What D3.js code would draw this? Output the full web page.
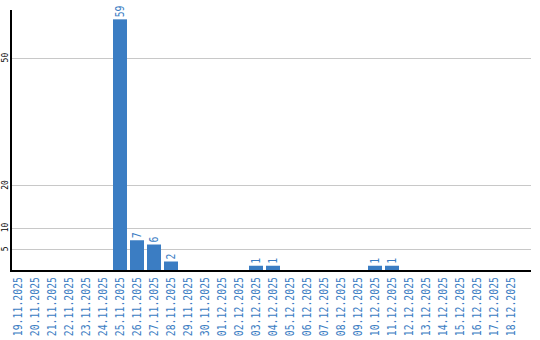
<!DOCTYPE html>
<html>
<head>
<meta charset="utf-8">
<script src="https://cdn.jsdelivr.net/npm/d3@7"></script>
<style>
body { margin: 0; background: #fff; }
svg { display: block; }
</style>
</head>
<body>
<div id="chart"></div>
<script>
// data
var dates = ["19.11.2025","20.11.2025","21.11.2025","22.11.2025","23.11.2025","24.11.2025",
  "25.11.2025","26.11.2025","27.11.2025","28.11.2025","29.11.2025","30.11.2025",
  "01.12.2025","02.12.2025","03.12.2025","04.12.2025","05.12.2025","06.12.2025",
  "07.12.2025","08.12.2025","09.12.2025","10.12.2025","11.12.2025","12.12.2025",
  "13.12.2025","14.12.2025","15.12.2025","16.12.2025","17.12.2025","18.12.2025"];
var counts = [0,0,0,0,0,0,59,7,6,2,0,0,0,0,1,1,0,0,0,0,0,1,1,0,0,0,0,0,0,0];
var yTicks = [5,10,20,50];

var chartW = 540, chartH = 340;
var plotLeft = 11, plotRight = 531, plotTop = 10, baseY = 270;
var barColor = "#3b7dc3";
// glyphs in the picture are tall but narrow, so squeeze along the text direction
var squeeze = 0.82;

var svg = d3.select("#chart").append("svg")
  .attr("width", chartW)
  .attr("height", chartH);

var x = d3.scaleBand()
  .domain(dates)
  .range([plotLeft, plotLeft + dates.length * 17 - 3])
  .paddingInner(3 / 17)
  .paddingOuter(0);

var y = d3.scaleLinear()
  .domain([0, 61.2])
  .range([baseY, plotTop]);

//gridlines
svg.selectAll("line.grid")
  .data(yTicks)
  .enter().append("line")
  .attr("class", "grid")
  .attr("x1", plotLeft)
  .attr("x2", plotRight)
  .attr("y1", function(d) { return Math.round(y(d)) + 0.5; })
  .attr("y2", function(d) { return Math.round(y(d)) + 0.5; })
  .style("stroke", "#c8c8c8")
  .style("stroke-width", 1);

//y tick labels, turned on their side
svg.selectAll("text.ylab")
  .data(yTicks)
  .enter().append("text")
  .attr("class", "ylab")
  .attr("transform", function(d) { return "translate(8," + y(d) + ") rotate(-90)"; })
  .attr("text-anchor", "middle")
  .style("font-family", "DejaVu Sans Mono")
  .style("font-size", "8px")
  .style("fill", "#000")
  .text(function(d) { return d; });

//bars
svg.selectAll("rect.bar")
  .data(counts)
  .enter().append("rect")
  .attr("class", "bar")
  .attr("x", function(d, i) { return x(dates[i]); })
  .attr("width", x.bandwidth())
  .attr("y", function(d) { return y(d); })
  .attr("height", function(d) { return baseY - y(d); })
  .style("fill", barColor);

//value labels above the bars (skip zeros)
svg.selectAll("text.val")
  .data(counts.map(function(d, i) { return {v: d, date: dates[i]}; }).filter(function(d) { return d.v > 0; }))
  .enter().append("text")
  .attr("class", "val")
  .attr("transform", function(d) {
    return "translate(" + (x(d.date) + x.bandwidth() / 2 + 4) + "," + (y(d.v) - 2) + ") rotate(-90) scale(" + squeeze + ",1)";
  })
  .attr("text-anchor", "start")
  .style("font-family", "DejaVu Sans Mono")
  .style("font-size", "12px")
  .style("fill", barColor)
  .text(function(d) { return d.v; });

//axes lines
svg.append("line")
  .attr("x1", 11).attr("x2", 11)
  .attr("y1", plotTop).attr("y2", baseY + 1)
  .style("stroke", "#000").style("stroke-width", 2);
svg.append("line")
  .attr("x1", 10).attr("x2", plotRight)
  .attr("y1", baseY + 1).attr("y2", baseY + 1)
  .style("stroke", "#000").style("stroke-width", 2);

//date labels
svg.selectAll("text.xlab")
  .data(dates)
  .enter().append("text")
  .attr("class", "xlab")
  .attr("transform", function(d) {
    return "translate(" + (x(d) + x.bandwidth() / 2 + 4) + "," + (baseY + 7) + ") rotate(-90) scale(" + squeeze + ",1)";
  })
  .attr("text-anchor", "end")
  .style("font-family", "DejaVu Sans Mono")
  .style("font-size", "12px")
  .style("fill", barColor)
  .text(function(d) { return d; });
</script>
</body>
</html>
